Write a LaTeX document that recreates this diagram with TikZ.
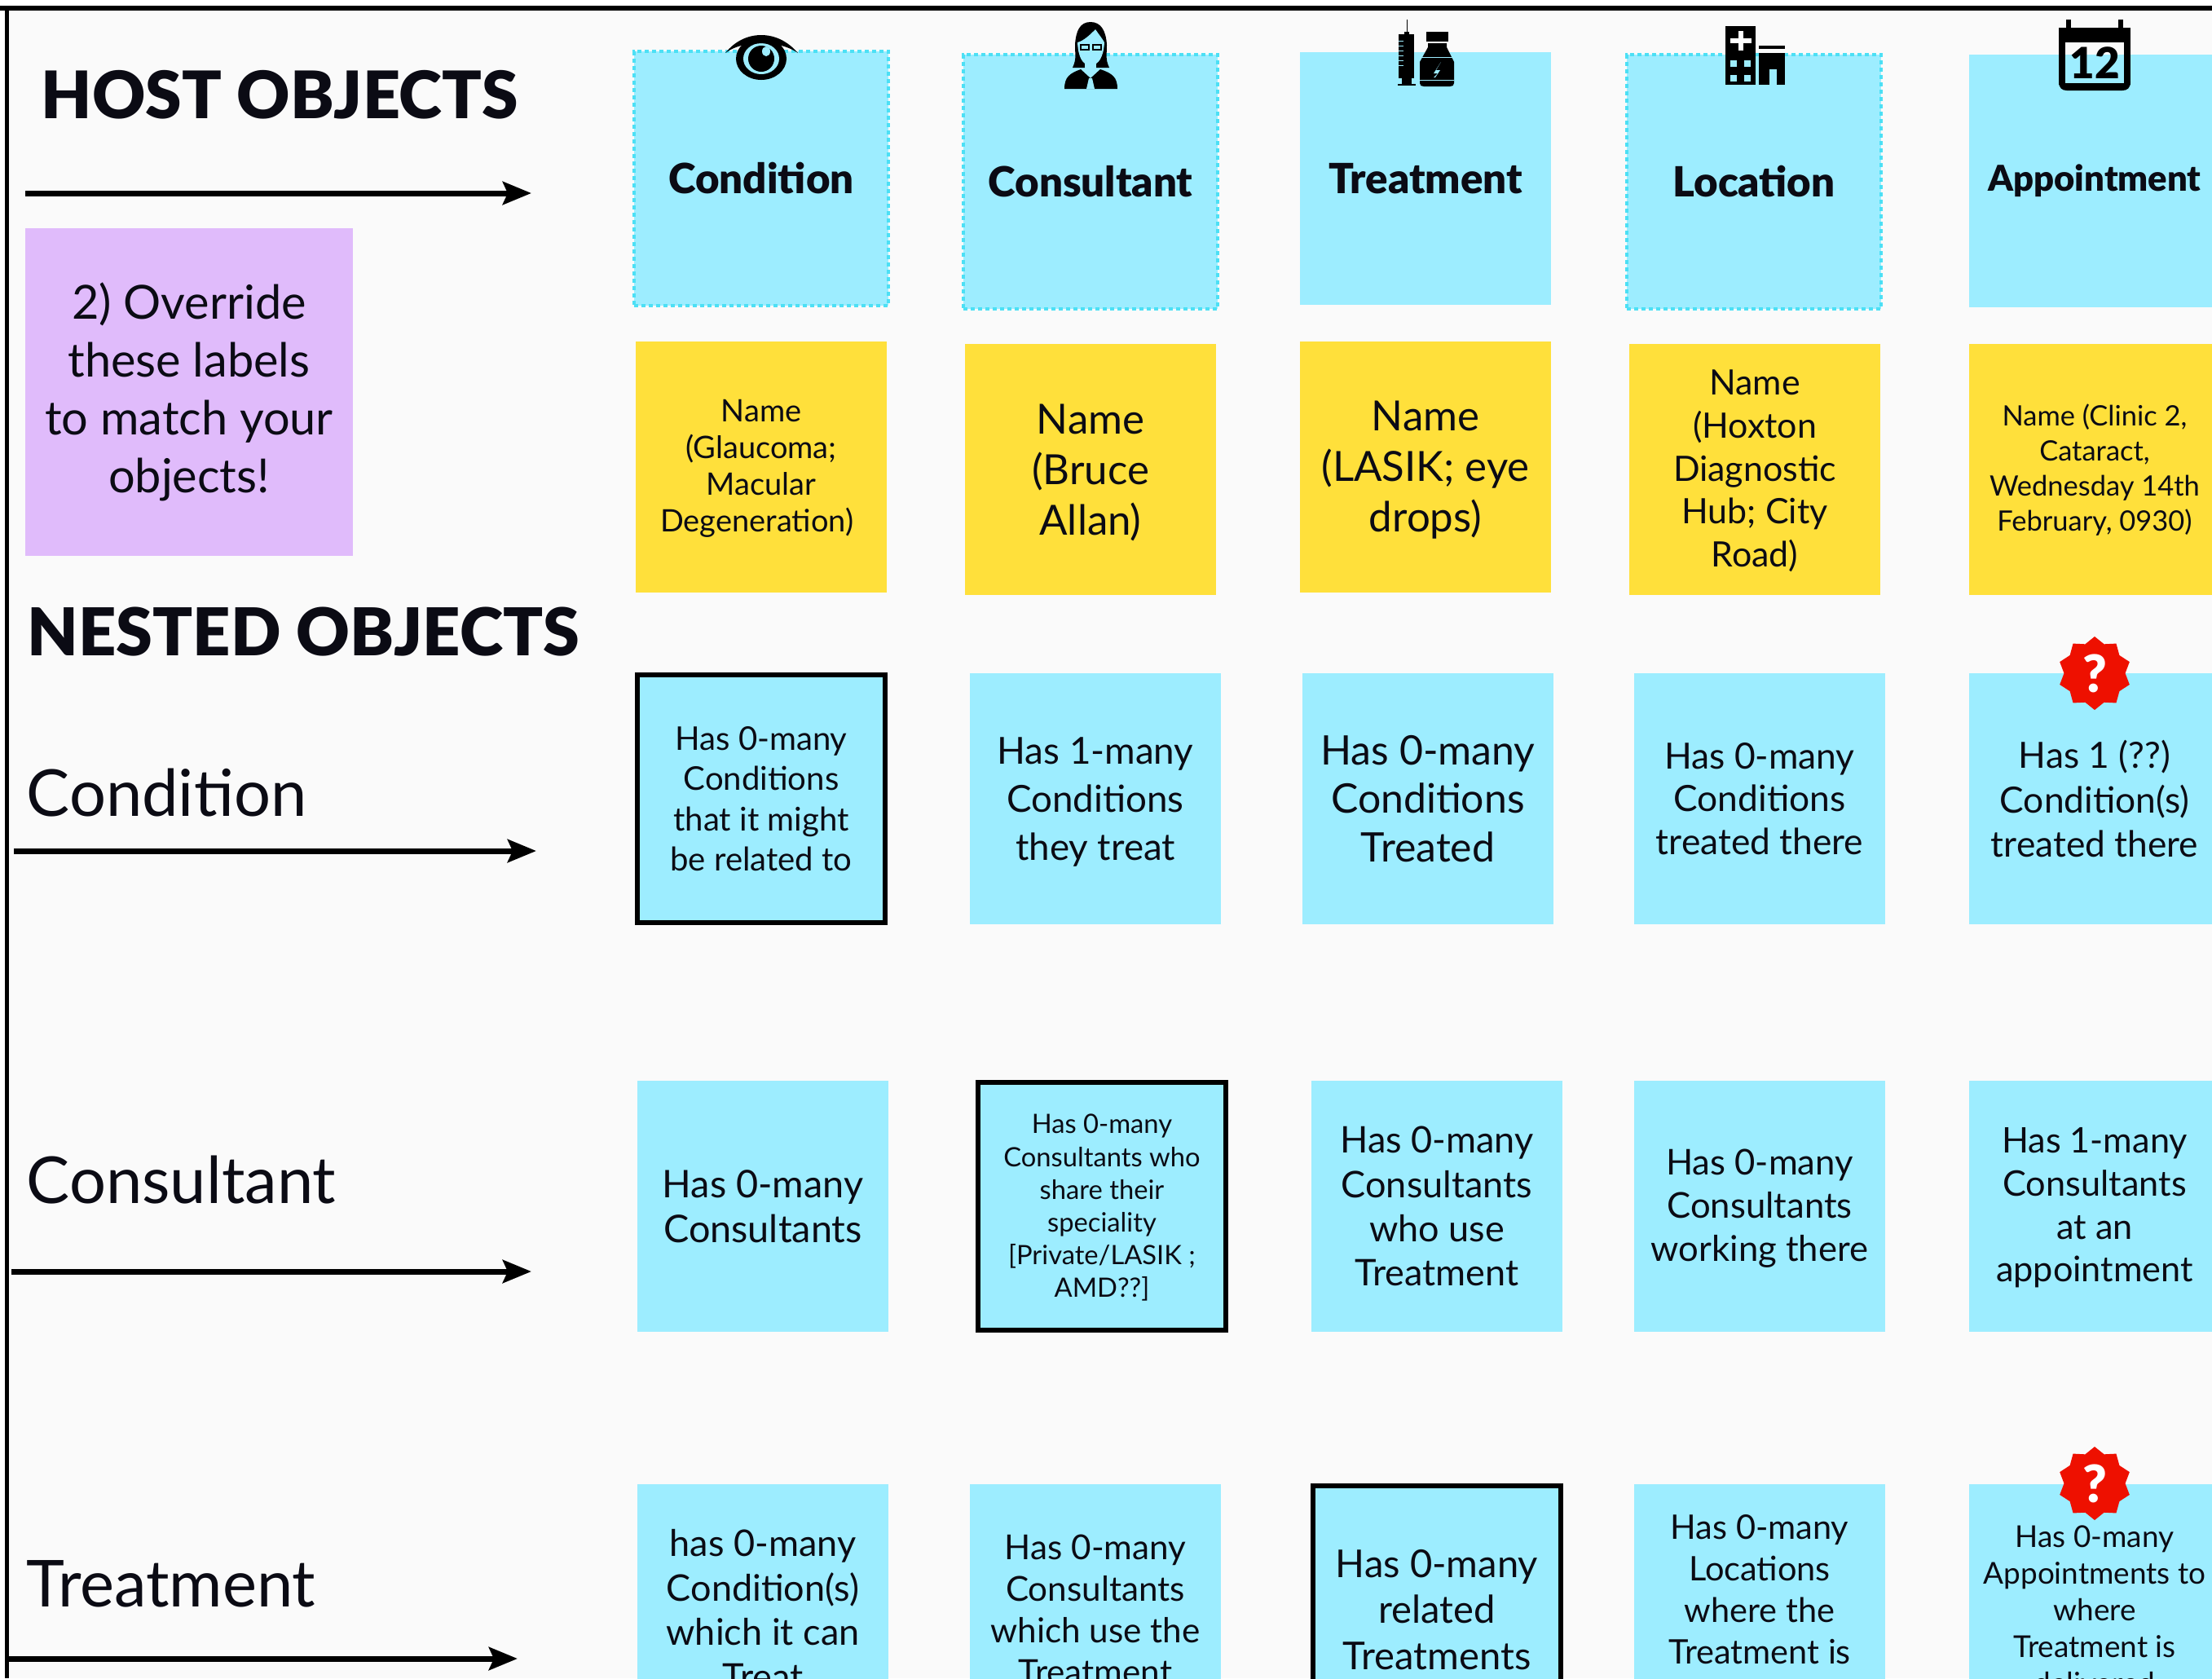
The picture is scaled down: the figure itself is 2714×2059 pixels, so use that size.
\documentclass[tikz,border=0pt]{standalone}
\usepackage{fontspec}
\setmainfont{Lato}[BoldFont={Lato Black}]
\usepackage{tikz}
\usetikzlibrary{arrows.meta}
\usetikzlibrary{shapes.geometric}
\definecolor{cardblue}{HTML}{9DEDFF}
\definecolor{dashblue}{HTML}{4CE0F5}
\definecolor{cardyellow}{HTML}{FFE03B}
\definecolor{cardpurple}{HTML}{E0BBFB}
\definecolor{pagegrey}{HTML}{FAFAFA}
\definecolor{inkblack}{HTML}{0B0B14}
\definecolor{badgered}{HTML}{EE1000}
\newcommand{\Dn}[1]{\rule{0pt}{\dimexpr 0.72em+#1\relax}}
\tikzset{
  txt/.style 2 args={font=\fontsize{#1}{#2}\selectfont},
  card/.style={fill=cardblue, text=inkblack, minimum width=3.08cm, minimum height=3.08cm, inner sep=0pt, align=center},
  hostcard/.style={card, draw=dashblue, dash pattern=on 0.05cm off 0.04cm, line width=0.04cm, minimum width=3.12cm, minimum height=3.12cm, font=\fontsize{14.5}{17}\selectfont\bfseries},
  plaincard/.style={card, minimum height=3.1cm, font=\fontsize{14.5}{17}\selectfont\bfseries},
  namecard/.style={card, fill=cardyellow},
  selfcard/.style={card, draw=black, line width=0.06cm, minimum width=3.04cm, minimum height=3.04cm},
  heading/.style={anchor=west, inner sep=0pt, text=inkblack},
  bigarrow/.style={draw=black, line width=0.07cm, -{Stealth[length=0.35cm, width=0.28cm, inset=0.06cm]}},
  badge/.style={star, star points=10, star point ratio=1.2, fill=badgered, text=white, inner sep=0pt, minimum size=0.9cm, font=\fontsize{18}{18}\selectfont\bfseries},
  icon/.style={fill=black}
}
\begin{document}
\begin{tikzpicture}[x=0.01cm,y=-0.01cm]
\useasboundingbox (0,0) rectangle (2714,2059);
\clip (0,0) rectangle (2714,2059);
\fill[white] (0,0) rectangle (2714,2059);
\fill[pagegrey] (8,10) rectangle (2714,2059);
\draw[black, line width=0.055cm] (0,10) -- (2714,10);% Top Edge
\draw[black, line width=0.05cm] (8.5,10) -- (8.5,2059);% Left Edge

% Headings
\node[heading, font=\fontsize{22.85}{26}\selectfont\bfseries] (hostTitle) at (50,116) {HOST OBJECTS};
\node[heading, font=\fontsize{23}{26}\selectfont\bfseries] (nestedTitle) at (33,775) {NESTED OBJECTS};
\node[heading, txt={22.6}{28}] (condTitle) at (32,973) {Condition};
\node[heading, txt={22.6}{28}] (consTitle) at (32,1448) {Consultant};
\node[heading, txt={22.6}{28}] (treatTitle) at (32,1943) {Treatment};
\node[fill=cardpurple, text=inkblack, minimum width=4.02cm, minimum height=4.02cm, inner sep=0pt, align=center, txt={16.4}{20.2}] (overrideNote) at (232,481) {\Dn{1pt}2) Override\\these labels\\to match your\\objects!};

\coordinate (hostFrom) at (31,237);
\coordinate (hostTo) at (652,237);
\coordinate (condFrom) at (17,1044);
\coordinate (condTo) at (658,1044);
\coordinate (consFrom) at (14,1560);
\coordinate (consTo) at (652,1560);
\coordinate (treatFrom) at (9,2035);
\coordinate (treatTo) at (635,2035);
\draw[bigarrow] (hostFrom) -- (hostTo);
\draw[bigarrow] (condFrom) -- (condTo);
\draw[bigarrow] (consFrom) -- (consTo);
\draw[bigarrow] (treatFrom) -- (treatTo);

% Host Row
\node[hostcard] (hostCondition) at (934,219) {Condition};
\node[hostcard] (hostConsultant) at (1338,223) {Consultant};
\node[plaincard] (hostTreatment) at (1749,219) {Treatment};
\node[hostcard] (hostLocation) at (2152,223) {Location};
\node[plaincard, font=\fontsize{12.4}{16}\selectfont\bfseries] (hostAppointment) at (2570,222) {Appointment};

% Name Row
\node[namecard, txt={10.8}{12.8}] (nameCondition) at (934,573) {\Dn{1pt}Name\\(Glaucoma;\\Macular\\Degeneration)\hspace*{3pt}};
\node[namecard, txt={14.5}{17.6}] (nameConsultant) at (1338,576) {\Dn{2pt}Name\\(Bruce\\Allan)};
\node[namecard, txt={14.5}{17.6}] (nameTreatment) at (1749,573) {\Dn{2pt}Name\\(LASIK; eye\\drops)};
\node[namecard, txt={12.2}{15}] (nameLocation) at (2153,576) {\Dn{1pt}Name\\(Hoxton\\Diagnostic\\Hub; City\\Road)};
\node[namecard, txt={9.8}{12.2}] (nameAppointment) at (2570,576) {\Dn{1pt}Name (Clinic 2,\\Cataract,\\Wednesday 14th\\February, 0930)};

% Condition Row
\node[selfcard, txt={11.4}{14}] (condCondition) at (934,980) {Has 0-many\\Conditions\\that it might\\be related to};
\node[card, txt={13}{16.8}] (condConsultant) at (1344,980) {\Dn{2pt}Has 1-many\\Conditions\\they treat};
\node[card, txt={14.2}{17}] (condTreatment) at (1752,980) {Has 0-many\\Conditions\\Treated};
\node[card, txt={12.6}{15}] (condLocation) at (2159,980) {Has 0-many\\Conditions\\treated there};
\node[card, txt={12.6}{15.6}] (condAppointment) at (2570,980) {Has 1 (??)\\Condition(s)\\treated there};

% Consultant Row
\node[card, txt={13.3}{15.6}] (consCondition) at (936,1480) {Has 0-many\\Consultants};
\node[selfcard, txt={9.3}{11.4}] (consConsultant) at (1352,1480) {\Dn{1pt}Has 0-many\\Consultants who\\share their\\speciality\\{[}Private/LASIK ;\\AMD??{]}};
\node[card, txt={12.8}{15.4}] (consTreatment) at (1763,1480) {Has 0-many\\Consultants\\who use\\Treatment};
\node[card, txt={12.4}{15}] (consLocation) at (2159,1480) {\Dn{1.5pt}Has 0-many\\Consultants\\working there};
\node[card, txt={12.3}{15}] (consAppointment) at (2570,1480) {\Dn{1pt}Has 1-many\\Consultants\\at an\\appointment};

% Treatment Row
\node[card, txt={12.8}{15.6}] (treatCondition) at (936,1975) {has 0-many\\Condition(s)\\which it can\\Treat};
\node[card, txt={12}{14.5}] (treatConsultant) at (1344,1975) {Has 0-many\\Consultants\\which use the\\Treatment};
\node[selfcard, txt={13.4}{16}] (treatTreatment) at (1763,1975) {Has 0-many\\related\\Treatments};
\node[card, txt={11.8}{14.5}] (treatLocation) at (2159,1975) {Has 0-many\\Locations\\where the\\Treatment is\\~};
\node[card, txt={10.5}{12.8}] (treatAppointment) at (2570,1975) {Has 0-many\\Appointments to\\where\\Treatment is\\delivered};

% Badges
\node[badge] (condBadge) at (2570,826) {?};
\node[badge] (treatBadge) at (2570,1820) {?};

% Eye
\fill[icon] (934,72) ellipse (31 and 26);% Outer Ring
\fill[cardblue] (934,72) ellipse (22 and 19);
\fill[icon] (934,72) ellipse (16 and 16);% Pupil
\fill[cardblue] (940,63) ellipse (5 and 6);
\fill[icon] (890,65) .. controls (902,50) and (918,43) .. (934,43) .. controls (950,43) and (966,50) .. (979,65) .. controls (966,56) and (950,53) .. (934,53) .. controls (918,53) and (902,56) .. (890,65) -- cycle;% Brow

% Doctor
\fill[icon] (1338,27) .. controls (1325,27) and (1320,38) .. (1319,55) .. controls (1319,68) and (1321,72) .. (1316,83) -- (1361,83) .. controls (1356,72) and (1358,68) .. (1358,55) .. controls (1357,38) and (1351,27) .. (1338,27) -- cycle;% Hair
\fill[cardblue] (1322,52) .. controls (1330,50) and (1338,42) .. (1344,36) .. controls (1348,42) and (1353,48) .. (1355,52) .. controls (1354,70) and (1348,80) .. (1338,80) .. controls (1328,80) and (1323,70) .. (1322,52) -- cycle;% Face
\fill[icon] (1325,54) rectangle (1337,62);
\fill[icon] (1340,54) rectangle (1352,62);
\fill[cardblue] (1327,56) rectangle (1335,60);
\fill[cardblue] (1342,56) rectangle (1350,60);
\fill[cardblue] (1331,78) rectangle (1345,90);% Neck
\fill[icon] (1306,109) .. controls (1306,95) and (1312,90) .. (1326,85) -- (1338,96) -- (1350,85) .. controls (1365,90) and (1371,95) .. (1371,109) -- cycle;% Body
\fill[cardblue] (1336,96) -- (1340,96) -- (1343,109) -- (1333,109) -- cycle;

% Syringe And Bottle
\fill[icon] (1725.5,24) rectangle (1726.5,40);
\fill[icon] (1723,39) rectangle (1729,42);
\fill[icon] (1716,42) rectangle (1735,96);
\fill[icon] (1720,96) rectangle (1732,103);
\fill[icon] (1715,103) rectangle (1737,105);
\foreach \tickY in {50,56,62,68,74,80} {
  \fill[cardblue] (1716,\tickY) rectangle (1722,\tickY+1);
}
\fill[icon] (1750,39) rectangle (1777,51);
\fill[icon] (1752,53) -- (1775,53) -- (1775,58) -- (1784,76) -- (1784,102) .. controls (1784,105) and (1782,106) .. (1779,106) -- (1747,106) .. controls (1744,106) and (1742,105) .. (1742,102) -- (1742,76) -- (1752,58) -- cycle;
\fill[cardblue] (1742,70) rectangle (1784,71);
\fill[cardblue] (1742,98) rectangle (1784,99);
\fill[cardblue] (1768,76) -- (1759,90) -- (1764,90) -- (1759,95) -- (1761,95) -- (1767,86) -- (1762,86) -- cycle;

% Hospital
\fill[icon] (2117,32) rectangle (2154,104);
\fill[white] (2133,38) rectangle (2139,62);
\fill[white] (2123,47) rectangle (2149,53);
\foreach \winX in {2123,2140} {
  \foreach \winY in {74,92} {
    \fill[cardblue] (\winX,\winY) rectangle (\winX+8,\winY+8);
  }
}
\fill[icon] (2158,56) rectangle (2190,60);
\fill[icon] (2158,65) rectangle (2190,104);
\fill[cardblue] (2171,85) rectangle (2180,104);

% Calendar
\fill[icon] (2526,34) rectangle (2614,104);
\fill[icon] (2526,100) .. controls (2526,108) and (2530,111) .. (2536,111) -- (2604,111) .. controls (2610,111) and (2614,108) .. (2614,100) -- cycle;
\fill[icon] (2535,24) rectangle (2541,38);
\fill[icon] (2599,24) rectangle (2605,38);
\fill[pagegrey] (2534,52) rectangle (2606,67);
\fill[cardblue] (2534,67) rectangle (2606,102);
\node[inner sep=0pt, text=black, font=\fontsize{15}{15}\selectfont\bfseries] (calendarDay) at (2570,77) {12};
\end{tikzpicture}
\end{document}
